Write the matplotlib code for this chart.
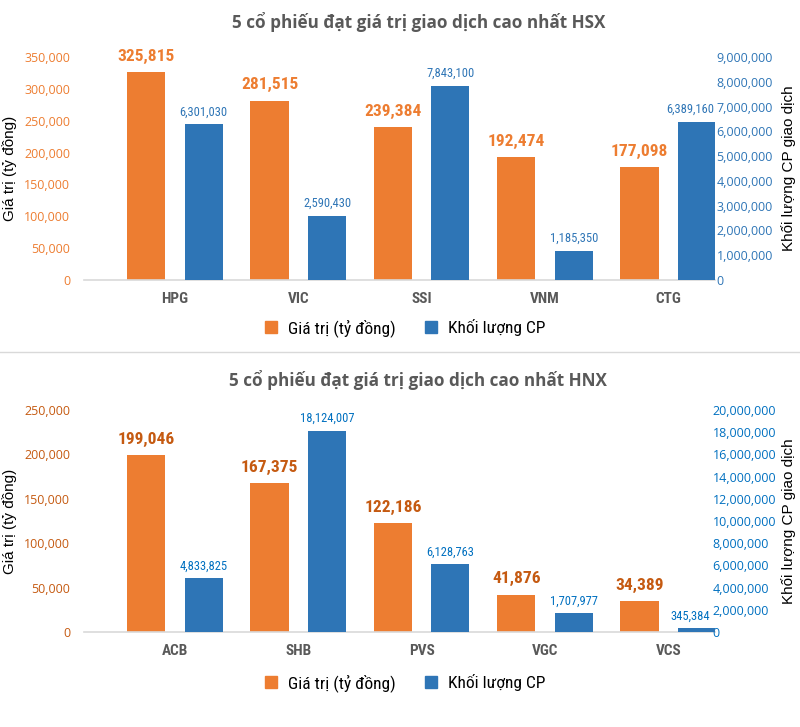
import matplotlib.pyplot as plt
from matplotlib.ticker import FuncFormatter, MultipleLocator
from matplotlib.lines import Line2D
from matplotlib import font_manager
import numpy as np

plt.rcParams['font.family'] = ['Open Sans', 'DejaVu Sans']

# du lieu HSX
hsx_ma = ['HPG', 'VIC', 'SSI', 'VNM', 'CTG']
hsx_gia_tri = [325815, 281515, 239384, 192474, 177098]
hsx_khoi_luong = [6301030, 2590430, 7843100, 1185350, 6389160]

# du lieu HNX
hnx_ma = ['ACB', 'SHB', 'PVS', 'VGC', 'VCS']
hnx_gia_tri = [199046, 167375, 122186, 41876, 34389]
hnx_khoi_luong = [4833825, 18124007, 6128763, 1707977, 345384]

cam = '#ED7D31'
xanh = '#2E75B6'
xam = '#595959'

# tim font hep neu co
co_san = {f.name for f in font_manager.fontManager.ttflist}
narrow_name = 'Liberation Sans'
scale = 0.85
for ten in ['Liberation Sans Narrow', 'Roboto Condensed', 'DejaVu Sans Condensed']:
    if ten in co_san:
        narrow_name = ten
        scale = 1.0
        break
narrow = [narrow_name, 'DejaVu Sans']
arial = ['Liberation Sans', 'DejaVu Sans']

fmt = FuncFormatter(lambda v, p: f'{int(v):,}')

fig = plt.figure(figsize=(8, 7.27), dpi=100)


def ve(rect, title, ma, gia_tri, khoi_luong, ymax1, step1, ymax2, step2,
       mau_nhan_cam, mau_nhan_xanh, title_y, leg_y, pad_phai):
    ax = fig.add_axes(rect)
    ax2 = ax.twinx()
    x = np.arange(len(ma))
    w = 0.31
    d = 0.233
    b1 = ax.bar(x - d, gia_tri, w, color=cam, zorder=2)
    b2 = ax2.bar(x + d, khoi_luong, w, color=xanh, zorder=2)
    ax.set_xlim(-0.737, len(ma) - 1 + 0.38)
    ax.set_ylim(0, ymax1)
    ax2.set_ylim(0, ymax2)
    ax.yaxis.set_major_locator(MultipleLocator(step1))
    ax2.yaxis.set_major_locator(MultipleLocator(step2))
    ax.yaxis.set_major_formatter(fmt)
    ax2.yaxis.set_major_formatter(fmt)
    for a in (ax, ax2):
        for s in a.spines.values():
            s.set_visible(False)
    ax.spines['bottom'].set_visible(True)
    ax.spines['bottom'].set_color('#D9D9D9')
    ax.spines['bottom'].set_linewidth(1.2)
    ax.tick_params(axis='y', length=0, labelsize=9, labelcolor=mau_nhan_cam, pad=10)
    ax2.tick_params(axis='y', length=0, labelsize=9, labelcolor=mau_nhan_xanh, pad=pad_phai)
    ax.tick_params(axis='x', length=0, pad=9)
    ax.set_xticks(x)
    ax.set_xticklabels(ma, fontsize=11 * scale, color=xam, fontweight='bold', family=narrow)
    ax.set_ylabel('Giá trị (tỷ đồng)', fontsize=11, family=arial)
    ax.yaxis.set_label_coords(-0.106, 0.5)
    ax2.set_ylabel('Khối lượng CP giao dịch', fontsize=11, family=arial)
    ax2.yaxis.set_label_coords(1.104, 0.5)
    for r in b1:
        ax.annotate(f'{int(r.get_height()):,}', (r.get_x() + r.get_width() / 2, r.get_height()),
                    xytext=(0, 6), textcoords='offset points', ha='center', va='bottom',
                    fontsize=12.5 * scale, fontweight='bold', color=mau_nhan_cam, family=narrow)
    for i, r in enumerate(b2):
        dx = -5 if i == len(b2) - 1 else 0
        ax2.annotate(f'{int(r.get_height()):,}', (r.get_x() + r.get_width() / 2, r.get_height()),
                     xytext=(dx, 4), textcoords='offset points', ha='center', va='bottom',
                     fontsize=9 * scale, color=mau_nhan_xanh, family=narrow)
    fig.text(0.523, title_y, title, ha='center', va='center', fontsize=12.3,
             fontweight='bold', color=xam)
    h = [Line2D([], [], marker='s', ls='', color=cam, markersize=8),
         Line2D([], [], marker='s', ls='', color=xanh, markersize=8)]
    ax.legend(h, ['Giá trị (tỷ đồng)', 'Khối lượng CP'], loc='center',
              bbox_to_anchor=(0.5, leg_y), ncol=2, frameon=False, handletextpad=0.0,
              columnspacing=1.0, prop={'family': narrow, 'size': 12.5 * scale})
    return ax, ax2


ve([0.105, 0.6149, 0.789, 0.3067], '5 cổ phiếu đạt giá trị giao dịch cao nhất HSX',
   hsx_ma, hsx_gia_tri, hsx_khoi_luong, 350000, 50000, 9000000, 1000000,
   cam, xanh, 1 - 22 / 727, -0.215, 1)
ve([0.105, 0.1307, 0.789, 0.3054], '5 cổ phiếu đạt giá trị giao dịch cao nhất HNX',
   hnx_ma, hnx_gia_tri, hnx_khoi_luong, 250000, 50000, 20000000, 2000000,
   '#C55A11', '#0070C0', 1 - 380 / 727, -0.23, -2)

fig.add_artist(Line2D([0, 1], [1 - 352 / 727] * 2, color='#D9D9D9', lw=1))

fig.savefig('out.png', dpi=100)
